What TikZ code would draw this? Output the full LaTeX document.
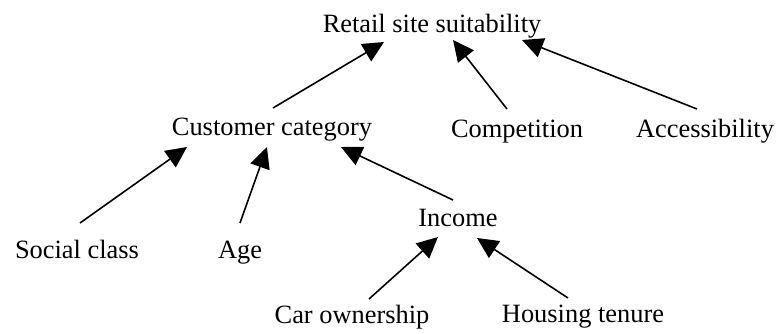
\documentclass[tikz,border=0pt]{standalone}
\usepackage{fontspec}
\setmainfont{Liberation Serif}
\usetikzlibrary{arrows.meta}
\tikzset{
  lbl/.style={anchor=base, inner sep=0pt, font=\fontsize{26.4}{30}\selectfont},
  link/.style={line width=1.6pt, -{Triangle[length=21pt,width=20pt]}}
}
\begin{document}
\begin{tikzpicture}[x=1pt,y=-1pt]
\useasboundingbox (0,0) rectangle (776,333);
\node[lbl] (rs) at (432,32) {Retail site suitability};
\node[lbl] (cc) at (272,135) {Customer category};
\node[lbl] (comp) at (517,137) {Competition};
\node[lbl] (acc) at (705,137) {Accessibility};
\node[lbl] (inc) at (458,226) {Income};
\node[lbl] (soc) at (77,258) {Social class};
\node[lbl] (age) at (240,258) {Age};
\node[lbl] (car) at (352,323) {Car ownership};
\node[lbl] (hous) at (583,322) {Housing tenure};
\draw[link] ([shift={(1,-27)}]cc.base) -- ([shift={(-48,10)}]rs.base);
\draw[link] ([shift={(-10,-28)}]comp.base) -- ([shift={(21,8)}]rs.base);
\draw[link] ([shift={(-8,-28)}]acc.base) -- ([shift={(90,8)}]rs.base);
\draw[link] ([shift={(3,-35)}]soc.base) -- ([shift={(-85,12)}]cc.base);
\draw[link] ([shift={(0,-35)}]age.base) -- ([shift={(-5,12)}]cc.base);
\draw[link] ([shift={(-5,-26)}]inc.base) -- ([shift={(69,12)}]cc.base);
\draw[link] ([shift={(17,-24)}]car.base) -- ([shift={(-20,11)}]inc.base);
\draw[link] ([shift={(-15,-24)}]hous.base) -- ([shift={(19,12)}]inc.base);
\end{tikzpicture}
\end{document}
